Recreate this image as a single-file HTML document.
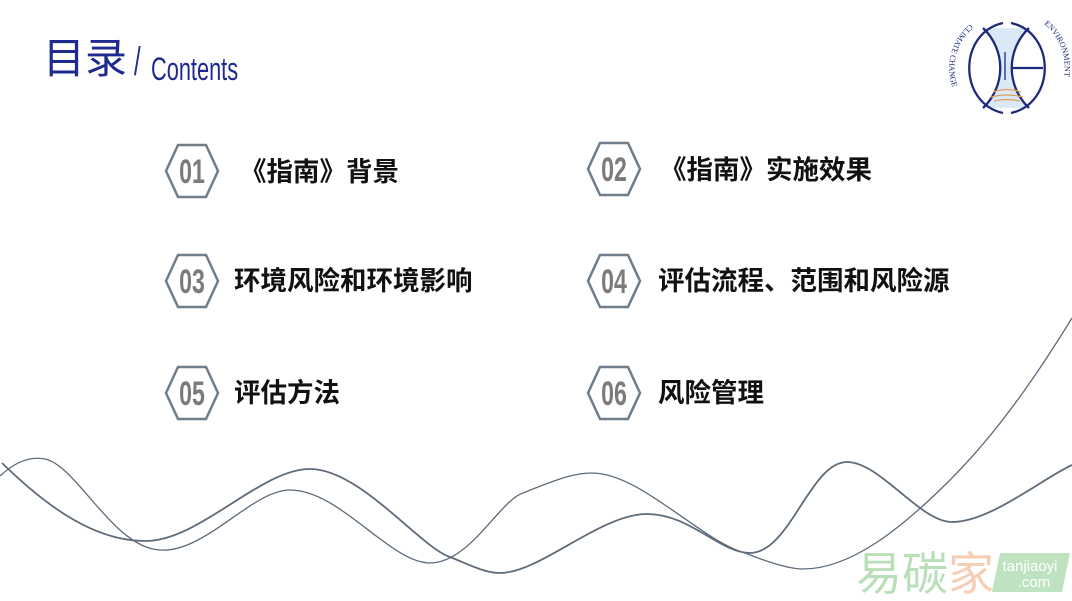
<!DOCTYPE html>
<html><head><meta charset="utf-8"><style>
html,body{margin:0;padding:0;background:#fff;}
#c{position:relative;width:1072px;height:601px;overflow:hidden;background:#fff;}
.t{position:absolute;font-family:"Liberation Sans","Noto Sans CJK SC",sans-serif;font-weight:bold;font-size:26.5px;color:#111;white-space:nowrap;line-height:1;}
.n{position:absolute;font-family:"Liberation Sans Narrow","Liberation Sans",sans-serif;font-weight:bold;font-size:34px;color:#7b7b7b;line-height:1;transform:scaleX(0.68);transform-origin:center;width:52px;text-align:center;}
</style></head><body><div id="c">
<svg width="1072" height="601" style="position:absolute;left:0;top:0">
<g fill="none" stroke="#6f7c8a" stroke-width="2.5">
<polygon points="166,171 178,145 206,145 218,171 206,197 178,197"/>
<polygon points="588,169 600,143 628,143 640,169 628,195 600,195"/>
<polygon points="166,281 178,255 206,255 218,281 206,307 178,307"/>
<polygon points="588,281 600,255 628,255 640,281 628,307 600,307"/>
<polygon points="166,393 178,367 206,367 218,393 206,419 178,419"/>
<polygon points="588,393 600,367 628,367 640,393 628,419 600,419"/>
</g>
<g fill="none" stroke="#5d6b7a">
<path stroke-width="1.3" d="M0,476 C15,462 30,456 45,459 C75,465 110,540 153,549 C200,560 250,490 290,490 C340,490 390,563 430,563 C470,563 500,500 523,493 C560,478 575,473 592,473 C640,473 700,540 745,553 C770,563 790,569 803,569 C850,569 900,530 950,480 C1000,430 1040,370 1072,318"/>
<path stroke-width="1.8" d="M2,463 C40,500 90,541 145,541 C200,541 260,469 310,469 C360,469 420,547 450,557 C470,565 485,573 500,573 C540,573 600,514 647,514 C690,514 720,553 750,553 C790,553 810,462 847,462 C880,462 920,522 952,522 C990,522 1040,480 1072,465"/>
</g>
<path d="M983,28 C1006,50 1006,86 983,108 L1029,108 C1006,86 1006,50 1029,28 Z" fill="#dbe8f6"/>
<g fill="none" stroke="#1e2a7a" stroke-width="2.3">
<path d="M1003,23 C958,33 958,103 1003,113"/>
<path d="M1011,23 C1056,33 1056,103 1011,113"/>
<path d="M983,28 C1006,50 1006,86 983,108"/>
<path d="M1029,28 C1006,50 1006,86 1029,108"/>
<path d="M1012,68 L1043,68"/>
</g>
<path d="M1005,52 v28" stroke="#1e2a7a" stroke-width="1.3"/>
<path d="M993,92 Q1007,87 1021,92 M991,97 Q1007,93 1023,97 M994,101 Q1007,98 1020,101" fill="none" stroke="#e0a060" stroke-width="1.2"/>
<path id="ar" d="M1044,24 A57,57 0 0 1 1044,112" fill="none"/>
<path id="al" d="M970,24 A57,57 0 0 0 970,112" fill="none"/>
<text font-size="8" font-family="Liberation Serif,serif" fill="#1e2a7a"><textPath href="#ar">ENVIRONMENT</textPath></text>
<text font-size="8" font-family="Liberation Serif,serif" fill="#1e2a7a"><textPath href="#al">CLIMATE CHANGE</textPath></text>
<text x="856" y="590" font-size="46" font-family="Liberation Sans,Noto Sans CJK SC,sans-serif" fill="#b9dfb9">易碳</text>
<text x="948" y="590" font-size="46" font-family="Liberation Sans,Noto Sans CJK SC,sans-serif" fill="#f5cfb5">家</text>
<polygon points="1000,553 1070,553 1062,592 992,592" fill="#bfe3c0"/>
<text x="1030" y="571" font-size="15" font-family="Liberation Sans,sans-serif" fill="#fff" text-anchor="middle">tanjiaoyi</text>
<text x="1034" y="587" font-size="15" font-family="Liberation Sans,sans-serif" fill="#fff" text-anchor="middle">.com</text>
</svg>
<div style="position:absolute;left:43px;top:38px;font-family:'Liberation Sans','Noto Sans CJK SC',sans-serif;font-size:42px;color:#1f2a8e;line-height:1;">目录</div>
<div style="position:absolute;left:134px;top:42px;font-family:'Liberation Sans Narrow','Liberation Sans',sans-serif;font-size:40px;color:#1f2a8e;line-height:1;transform:scaleX(0.6);transform-origin:left;">/</div>
<div style="position:absolute;left:151px;top:53px;font-family:'Liberation Sans Narrow','Liberation Sans',sans-serif;font-size:32px;color:#1f2a8e;line-height:1;transform:scaleX(0.68);transform-origin:left;">Contents</div>
<div class="n" style="left:166px;top:155px">01</div>
<div class="n" style="left:588px;top:153px">02</div>
<div class="n" style="left:166px;top:265px">03</div>
<div class="n" style="left:588px;top:265px">04</div>
<div class="n" style="left:166px;top:377px">05</div>
<div class="n" style="left:588px;top:377px">06</div>
<div class="t" style="left:240px;top:159px">《指南》背景</div>
<div class="t" style="left:660px;top:157px">《指南》实施效果</div>
<div class="t" style="left:234px;top:268px">环境风险和环境影响</div>
<div class="t" style="left:658px;top:268px">评估流程、范围和风险源</div>
<div class="t" style="left:234px;top:380px">评估方法</div>
<div class="t" style="left:658px;top:380px">风险管理</div>
</div></body></html>
